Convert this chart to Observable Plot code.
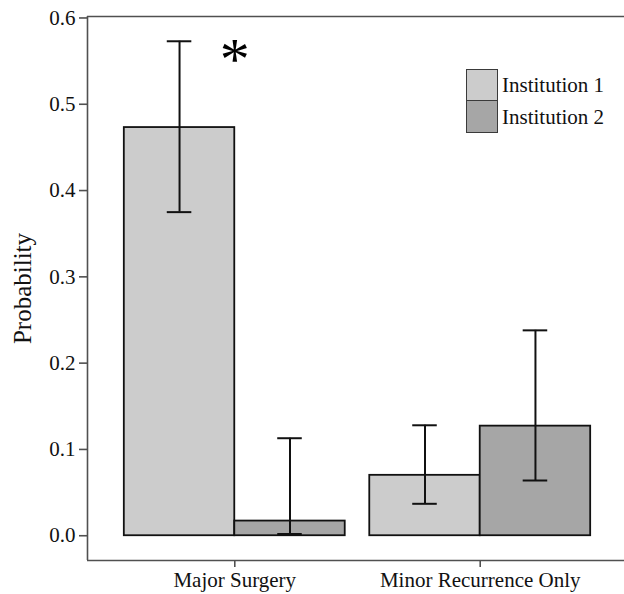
<!DOCTYPE html>
<html>
<head>
<meta charset="utf-8">
<script src="https://cdn.jsdelivr.net/npm/d3@7"></script>
<script src="https://cdn.jsdelivr.net/npm/@observablehq/plot@0.6"></script>
<style>
  html, body { margin: 0; padding: 0; background: #fff; }
  #wrap { position: relative; width: 624px; height: 594px; overflow: hidden; font-family: "Liberation Serif", "Times New Roman", "DejaVu Serif", serif; }
  #legend { position: absolute; left: 466px; top: 69px; }
  .item { display: flex; align-items: center; height: 32px; }
  .sw { width: 32px; height: 32px; border: 1px solid #3a3a3a; box-sizing: border-box; margin-right: 4px; }
  .item + .item .sw { border-top: none; }
  .lab { font-size: 21px; color: #111; }
</style>
</head>
<body>
<div id="wrap"><div id="legend"></div></div>
<script>
// ---- data ----
const categories = ["Major Surgery", "Minor Recurrence Only"];
const institutions = ["Institution 1", "Institution 2"];
const colors = ["#cccccc", "#a6a6a6"];
const inst1Value = [0.473, 0.070];
const inst1Low   = [0.375, 0.037];
const inst1High  = [0.573, 0.128];
const inst2Value = [0.017, 0.127];
const inst2Low   = [0.002, 0.064];
const inst2High  = [0.113, 0.238];
const yTicks = [0, 0.1, 0.2, 0.3, 0.4, 0.5, 0.6];
const yTitle = "Probability";
const significance = [{category: "Major Surgery", label: "*"}];

// ---- table ----
const dodge = 0.45;   // width of each dodged bar (category units)
const capHalf = 0.05;
const rows = [];
categories.forEach((c, i) => {
  rows.push({cat: c, inst: institutions[0], j: 0, g: i + 1, value: inst1Value[i], lo: inst1Low[i], hi: inst1High[i]});
  rows.push({cat: c, inst: institutions[1], j: 1, g: i + 1, value: inst2Value[i], lo: inst2Low[i], hi: inst2High[i]});
});
rows.forEach(d => {
  d.x1 = d.g + (d.j === 0 ? -dodge : 0);
  d.x2 = d.g + (d.j === 0 ? 0 : dodge);
  d.xc = (d.x1 + d.x2) / 2;
});

const yMin = -0.0287, yMax = 0.6017;
const xMin = 0.4, xMax = 2.6;
const axisColor = "#505050";
const font = "Liberation Serif";

const chart = Plot.plot({
  width: 624,
  height: 594,
  marginTop: 16,
  marginBottom: 34,
  marginLeft: 87,
  marginRight: 0,
  style: {fontFamily: font, background: "white", overflow: "visible"},
  x: {type: "linear", domain: [xMin, xMax], range: [87, 627]},
  y: {domain: [yMin, yMax]},
  marks: [
    Plot.rect(rows, {x1: "x1", x2: "x2", y1: 0, y2: "value",
      fill: d => colors[d.j], stroke: "#111", strokeWidth: 1.8}),
    Plot.ruleX(rows, {x: "xc", y1: "lo", y2: "hi", stroke: "#111", strokeWidth: 2}),
    Plot.ruleY(rows, {y: "hi", x1: d => d.xc - capHalf, x2: d => d.xc + capHalf, stroke: "#111", strokeWidth: 2}),
    Plot.ruleY(rows, {y: "lo", x1: d => d.xc - capHalf, x2: d => d.xc + capHalf, stroke: "#111", strokeWidth: 2}),
    Plot.text(significance, {
      x: d => categories.indexOf(d.category) + 1,
      y: d => inst1High[categories.indexOf(d.category)],
      text: "label", fontSize: 60, fill: "#000", dy: 19, fontFamily: font
    }),
    // frame lines
    Plot.ruleY([yMax], {stroke: axisColor, strokeWidth: 1.6}),
    Plot.ruleY([yMin], {stroke: axisColor, strokeWidth: 1.6}),
    Plot.ruleX([xMin], {stroke: axisColor, strokeWidth: 1.6}),
    Plot.axisY({
      ticks: yTicks, tickFormat: d3.format(".1f"), tickSize: 8, tickPadding: 4,
      fontSize: 21, stroke: axisColor, strokeWidth: 1.6, color: "#111",
      label: null
    }),
    Plot.text([yTitle], {
      frameAnchor: "left", text: d => d, rotate: -90, dx: -65,
      textAnchor: "middle", fontSize: 25, fill: "#111", fontFamily: font
    }),
    Plot.axisX({
      ticks: categories.map((c, i) => i + 1), tickFormat: d => categories[d - 1],
      tickSize: 7, tickPadding: 5, fontSize: 21, stroke: axisColor, strokeWidth: 1.6,
      color: "#111", label: null
    })
  ]
});
document.getElementById("wrap").prepend(chart);

// legend
const legend = document.getElementById("legend");
institutions.forEach((name, j) => {
  const item = document.createElement("div");
  item.className = "item";
  const sw = document.createElement("div");
  sw.className = "sw";
  sw.style.background = colors[j];
  const lab = document.createElement("span");
  lab.className = "lab";
  lab.textContent = name;
  item.append(sw, lab);
  legend.append(item);
});
</script>
</body>
</html>
